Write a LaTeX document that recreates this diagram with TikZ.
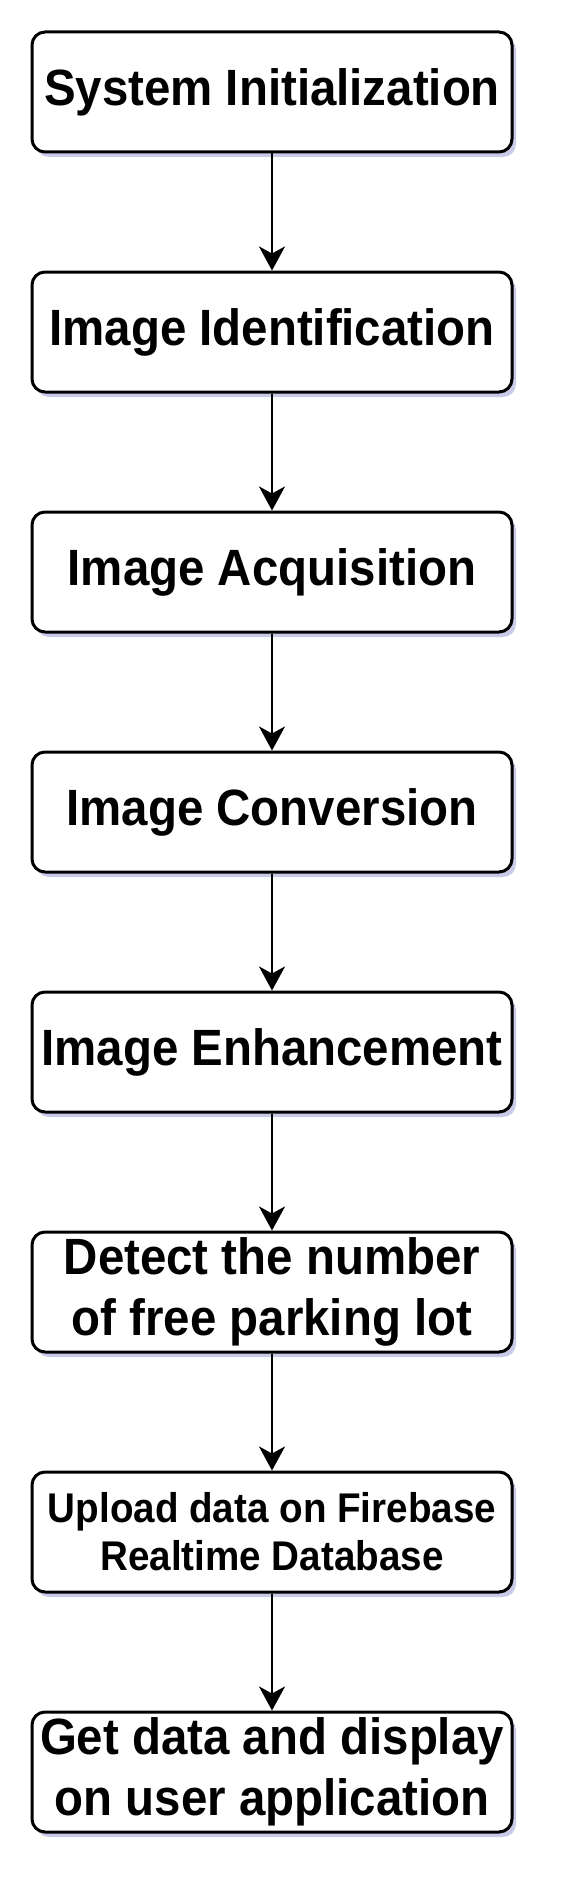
\documentclass[tikz,border=0pt]{standalone}
\usepackage{fontspec}
\setmainfont{Liberation Sans}[FakeStretch=0.93]
\usetikzlibrary{positioning, arrows.meta, shadows}

\begin{document}
\begin{tikzpicture}[
        x=1pt, y=1pt,
        >={Stealth[length=24pt, width=26pt, inset=7pt]},
        stepbox/.style={draw=black, line width=3pt, rounded corners=13pt, fill=white,
            minimum width=480pt, minimum height=120pt, inner sep=0pt, align=center,
            drop shadow={shadow xshift=4pt, shadow yshift=-5pt, opacity=0.3, fill=blue!40!gray}},
        bigtext/.style={font=\bfseries\fontsize{51}{61}\selectfont},
        smalltext/.style={font=\bfseries\fontsize{41.5}{48}\selectfont},
        flow/.style={->, line width=2.8pt},
    ]

        % page frame
        \useasboundingbox (0,0) rectangle (561,-1881);

        % Draw the steps of the flow
        \foreach \i / \sty / \txt in {
                1/bigtext/{System Initialization},
                2/bigtext/{Image Identification},
                3/bigtext/{Image Acquisition},
                4/bigtext/{Image Conversion},
                5/bigtext/{Image Enhancement},
                6/bigtext/{Detect the number\\of free parking lot},
                7/smalltext/{Upload data on Firebase\\Realtime Database},
                8/bigtext/{Get data and display\\on user application}}
            \node[stepbox, \sty] (S-\i) at (272, -92-240*\i+240) {\txt};

        % Connect every step with the next one
        \foreach \i [count=\j from 2] in {1,...,7}
            \draw[flow] (S-\i) -- (S-\j);
\end{tikzpicture}
\end{document}
